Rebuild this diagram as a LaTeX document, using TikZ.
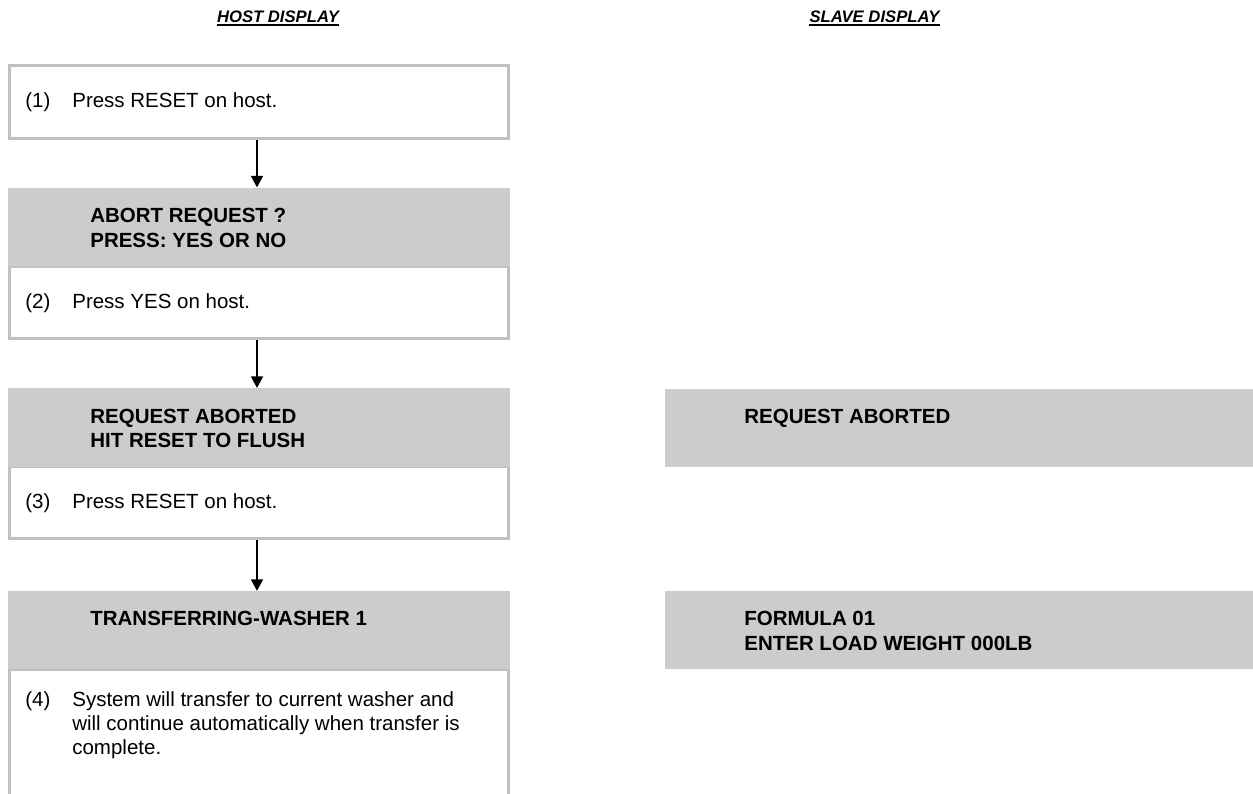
\documentclass[tikz,border=0pt]{standalone}
\usepackage{fontspec}
\setmainfont{Liberation Sans}
\usetikzlibrary{arrows.meta}
\definecolor{hdrgray}{HTML}{CCCCCC}
\definecolor{brdgray}{HTML}{C0C0C0}
\tikzset{
  panel/.style={draw=brdgray, line width=1.8pt, fill=white, inner sep=0pt, anchor=north west},
  shade/.style={fill=hdrgray, draw=none, inner sep=0pt, outer sep=0pt, anchor=north west},
  plain/.style={anchor=base west, inner sep=0pt, font=\fontsize{12.3pt}{14.4pt}\selectfont},
  strong/.style={anchor=base west, inner sep=0pt, font=\fontsize{12.3pt}{14.4pt}\selectfont\bfseries},
  title/.style={anchor=base, inner sep=0pt, font=\fontsize{10pt}{12pt}\selectfont\bfseries\itshape},
  flow/.style={-{Triangle[length=7pt,width=7pt]}, line width=1.6pt, black},
}
\begin{document}
\begin{tikzpicture}[x=0.6pt,y=-0.6pt]
\useasboundingbox (0,0) rectangle (1253,793);
\fill[white] (0,0) rectangle (1253,793);
\clip (0,0) rectangle (1253,793);

% column titles
\node[title] (t1) at (278,22.5) {HOST DISPLAY};
\node[title] (t2) at (874.5,22.5) {SLAVE DISPLAY};
\draw[line width=1.2pt] ([yshift=-1.3pt]t1.base west) -- ([yshift=-1.3pt]t1.base east);
\draw[line width=1.2pt] ([yshift=-1.3pt]t2.base west) -- ([yshift=-1.3pt]t2.base east);

% step 1
\node[panel, minimum width=299.4pt, minimum height=43.8pt] (b1) at (8,63.5) {};
\node[plain] (n1) at (25,107) {(1)};
\node[plain] (p1) at (72,107) {Press RESET on host.};

% step 2
\node[panel, minimum width=299.4pt, minimum height=43.2pt] (b2) at (8,264.5) {};
\node[shade, minimum width=301.2pt, minimum height=47.1pt] (h2) at (8,187.5) {};
\node[strong] (h2a) at (90,222.5) {ABORT REQUEST ?};
\node[strong] (h2b) at (90,247.5) {PRESS: YES OR NO};
\node[plain] (n2) at (25,308) {(2)};
\node[plain] (p2) at (72,308) {Press YES on host.};

% step 3
\node[panel, minimum width=299.4pt, minimum height=43.2pt] (b3) at (8,464.5) {};
\node[shade, minimum width=301.2pt, minimum height=47.1pt] (h3) at (8,388) {};
\node[strong] (h3a) at (90,423) {REQUEST ABORTED};
\node[strong] (h3b) at (90,447.5) {HIT RESET TO FLUSH};
\node[plain] (n3) at (25,508) {(3)};
\node[plain] (p3) at (72,508) {Press RESET on host.};

% step 4
\node[panel, minimum width=299.4pt, minimum height=90.6pt] (b4) at (8,667.5) {};
\node[shade, minimum width=301.2pt, minimum height=46.8pt] (h4) at (8,591) {};
\node[strong] (h4a) at (90,625) {TRANSFERRING-WASHER 1};
\node[plain] (n4) at (25,706) {(4)};
\node[plain] (p4a) at (72,706) {System will transfer to current washer and};
\node[plain] (p4b) at (72,730) {will continue automatically when transfer is};
\node[plain] (p4c) at (72,754) {complete.};

% slave displays
\node[shade, minimum width=354pt, minimum height=46.8pt] (s1) at (665,389) {};
\node[strong] (s1a) at (744,423) {REQUEST ABORTED};
\node[shade, minimum width=354pt, minimum height=46.8pt] (s2) at (665,591) {};
\node[strong] (s2a) at (744,625) {FORMULA 01};
\node[strong] (s2b) at (744,650) {ENTER LOAD WEIGHT 000LB};

% connectors
\draw[flow] ([xshift=-1.2pt]b1.south) -- ([xshift=-1.2pt]h2.north);
\draw[flow] ([xshift=-1.2pt]b2.south) -- ([xshift=-1.2pt]h3.north);
\draw[flow] ([xshift=-1.2pt]b3.south) -- ([xshift=-1.2pt]h4.north);
\end{tikzpicture}
\end{document}
